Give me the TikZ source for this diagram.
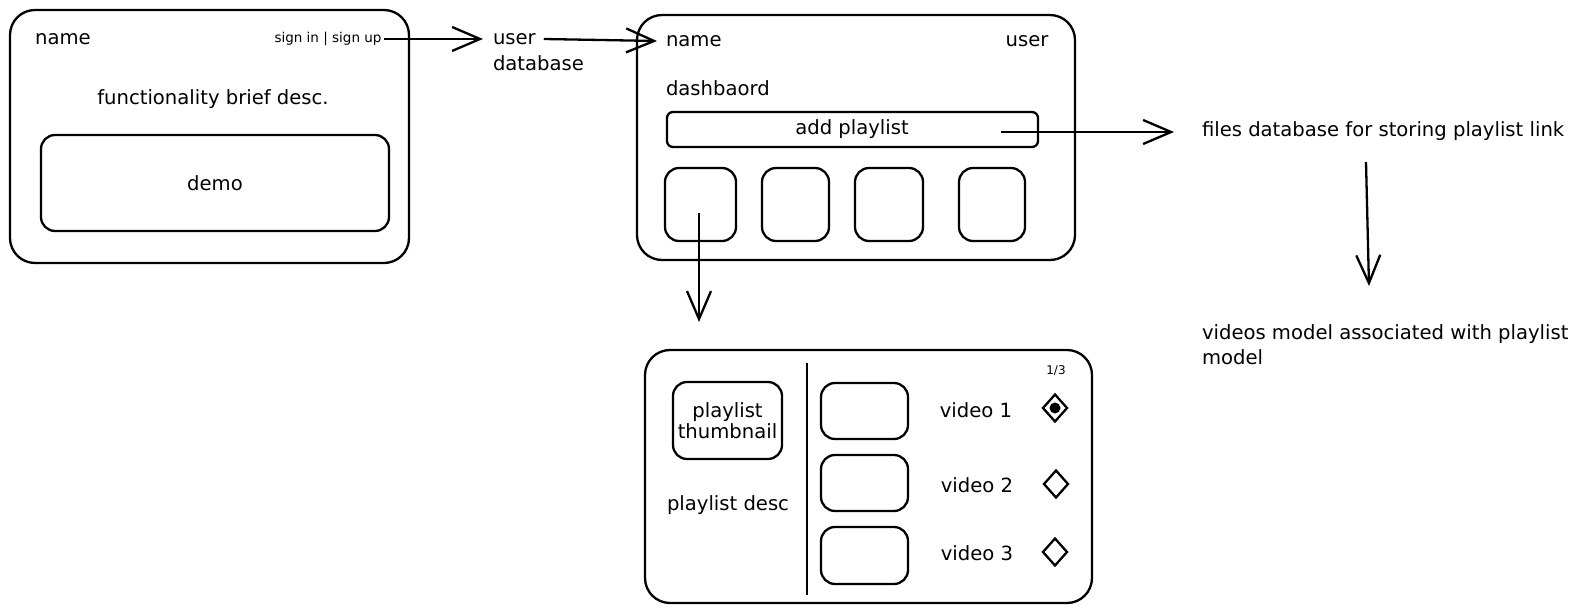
\documentclass[tikz,border=0pt]{standalone}
\usepackage{fontspec}
\setmainfont{DejaVu Sans}
\usetikzlibrary{arrows.meta,shapes.geometric}
\begin{document}
\begin{tikzpicture}[x=1pt,y=-1pt,
  every node/.style={inner sep=0pt, outer sep=0pt},
  txt/.style={font=\fontsize{19.6}{25}\selectfont},
  smalltxt/.style={font=\fontsize{13.5}{16}\selectfont},
  tinytxt/.style={font=\fontsize{12}{14}\selectfont},
  bigbox/.style={draw, line width=2.3pt, rounded corners=25pt},
  midbox/.style={draw, line width=2.3pt, rounded corners=14pt},
  barbox/.style={draw, line width=2.3pt, rounded corners=6pt},
  conn/.style={line width=2.3pt, -{Straight Barb[length=28pt,width=24pt,line width=2.3pt]}},
  dia/.style={diamond, draw, line width=2.3pt, minimum width=24pt, minimum height=27pt}
]
\useasboundingbox (0,0) rectangle (1591,612);

% ---- landing page ----
\node[bigbox, minimum width=399pt, minimum height=253pt] (land) at (209.5,136.5) {};
\node[txt] (lname) at (63,39) {name};
\node[smalltxt] (signin) at (328,39) {sign in | sign up};
\node[txt] (func) at (213,99) {functionality brief desc.};
\node[midbox, minimum width=348pt, minimum height=96pt] (demo) at (215,183) {};
\node[txt] at (demo.center) {demo};

% ---- user database ----
\node[txt, anchor=west] (user) at (493,39) {user};
\node[txt, anchor=west] (database) at (493,63) {database};

% ---- dashboard ----
\node[bigbox, minimum width=438pt, minimum height=245pt] (dash) at (856,137.5) {};
\node[txt, anchor=west] (dname) at (666,41) {name};
\node[txt] (duser) at (1027,41) {user};
\node[txt, anchor=west] (dlabel) at (666,88) {dashbaord};
\node[barbox, minimum width=371pt, minimum height=35pt] (add) at (852.5,129.5) {};
\node[txt] (addtxt) at (852,129) {add playlist};
\node[midbox, minimum width=71pt, minimum height=73pt] (s1) at (700.5,204.5) {};
\node[midbox, minimum width=67pt, minimum height=73pt] (s2) at (795.5,204.5) {};
\node[midbox, minimum width=68pt, minimum height=73pt] (s3) at (889,204.5) {};
\node[midbox, minimum width=66pt, minimum height=73pt] (s4) at (992,204.5) {};

% ---- files / videos ----
\node[txt, anchor=west] (files) at (1202,131) {files database for storing playlist link};
\node[txt, anchor=west, align=left] (videos) at (1202,345) {videos model associated with playlist\\model};

% ---- playlist page ----
\node[bigbox, minimum width=447pt, minimum height=253pt] (pl) at (868.5,476.5) {};
\coordinate (divtop) at (807,363);
\coordinate (divbot) at (807,595);
\draw[line width=2.3pt] (divtop) -- (divbot);
\node[midbox, minimum width=109pt, minimum height=77pt] (thumb) at (727.5,420.5) {};
\node[txt, align=center, font=\fontsize{19.6}{21}\selectfont] at (thumb.center) {playlist\\thumbnail};
\node[txt] (pdesc) at (728,505) {playlist desc};
\node[midbox, minimum width=87pt, minimum height=56pt] (v1) at (864.5,411) {};
\node[midbox, minimum width=87pt, minimum height=56pt] (v2) at (864.5,483) {};
\node[midbox, minimum width=87pt, minimum height=57pt] (v3) at (864.5,555.5) {};
\node[txt] (v1t) at (976,410) {video 1};
\node[txt] (v2t) at (977,485) {video 2};
\node[txt] (v3t) at (977,553) {video 3};
\node[tinytxt] (page) at (1056,371) {1/3};
\node[dia] (d1) at (1055,408) {};
\node[circle, fill, minimum size=11pt] (d1dot) at (d1.center) {};
\node[dia] (d2) at (1056,484) {};
\node[dia] (d3) at (1055,552) {};

% ---- connectors ----
\coordinate (sigend) at ([xshift=-10pt]user.west);
\draw[conn] ([xshift=3pt]signin.east) -- (sigend);
\coordinate (nameend) at ([xshift=-9pt]dname.west);
\draw[conn] ([xshift=8pt]user.east) -- (nameend);
\coordinate (addstart) at (1001,132);
\coordinate (addend) at (1174,132);
\draw[conn] (addstart) -- (addend);
\coordinate (fstart) at (1366,162);
\coordinate (fend) at (1369,286);
\draw[conn] (fstart) -- (fend);
\coordinate (s1start) at (699,213);
\coordinate (s1end) at (699,322);
\draw[conn] (s1start) -- (s1end);
\end{tikzpicture}
\end{document}
